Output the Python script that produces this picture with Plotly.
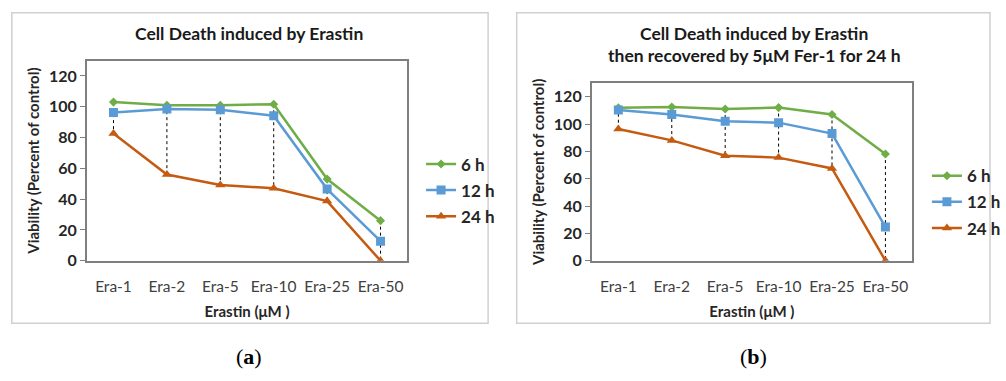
import plotly.graph_objects as go

W, H = 1006, 381

categories = ["Era-1", "Era-2", "Era-5", "Era-10", "Era-25", "Era-50"]
series_names = ["6 h", "12 h", "24 h"]

# Panel (a): Cell death induced by Erastin
a_6h = [103, 101, 101, 101.6, 53, 26]
a_12h = [96.3, 98.5, 98, 94.2, 46.5, 12.7]
a_24h = [82.6, 56, 49.2, 47, 38.7, 0]

# Panel (b): then recovered by 5µM Fer-1 for 24 h
b_6h = [111.9, 112.4, 111, 112, 107, 78]
b_12h = [110.3, 107, 102, 101, 93, 24.6]
b_24h = [96.4, 88, 76.8, 75.4, 67.5, 0]

y_ticks = [0, 20, 40, 60, 80, 100, 120]

colors = ["#70AD47", "#5B9BD5", "#C55A11"]
symbols = ["diamond", "square", "triangle-up"]
msizes = [7, 9, 9]

FONT = "Lato"

def px(x):
    return x / W

def py(y):
    return 1 - y / H

fig = go.Figure()

panels = [
    ("x", "y", [a_6h, a_12h, a_24h], "legend"),
    ("x2", "y2", [b_6h, b_12h, b_24h], "legend2"),
]

for xa, ya, data, leg in panels:
    # high-low drop lines
    dx, dy = [], []
    for i, c in enumerate(categories):
        vals = [s[i] for s in data]
        dx += [c, c, None]
        dy += [max(vals), min(vals), None]
    fig.add_trace(go.Scatter(x=dx, y=dy, xaxis=xa, yaxis=ya, mode="lines",
                             line=dict(color="#000000", width=1, dash="dot"),
                             showlegend=False, hoverinfo="skip", legend=leg))
    for k, (name, vals) in enumerate(zip(series_names, data)):
        fig.add_trace(go.Scatter(
            x=categories, y=vals, xaxis=xa, yaxis=ya, name=name,
            mode="lines+markers",
            line=dict(color=colors[k], width=2.5),
            marker=dict(symbol=symbols[k], size=msizes[k], color=colors[k]),
            legend=leg, legendgroup=f"{leg}{k}",
        ))

axis_common_x = dict(
    type="category", range=[-0.5, 5.5], showgrid=False, zeroline=False,
    showline=True, mirror=True, linecolor="#7f7f7f", linewidth=1.5,
    ticks="outside", ticklen=11, tickcolor="rgba(255,255,255,0)",
    tickfont=dict(family=FONT, size=15.5, color="#404040"),
    title=dict(text="<b>Erastin (μM )</b>", font=dict(family=FONT, size=15, color="#262626"), standoff=12),
)
axis_common_y = dict(
    range=[0, 130], tickvals=y_ticks, showgrid=False, zeroline=False,
    showline=True, mirror=True, linecolor="#7f7f7f", linewidth=1.5,
    ticks="outside", ticklen=5, tickcolor="#7f7f7f",
    tickfont=dict(family=FONT, size=16, color="#262626", weight="bold"),
    title=dict(text="<b>Viability (Percent of control)</b>", font=dict(family=FONT, size=15, color="#262626"), standoff=6),
)

fig.update_layout(
    width=W, height=H, margin=dict(l=0, r=0, t=0, b=0),
    paper_bgcolor="white", plot_bgcolor="white",
    xaxis=dict(domain=[px(88), px(413)], anchor="y", **axis_common_x),
    yaxis=dict(domain=[py(267), py(62)], anchor="x", **axis_common_y),
    xaxis2=dict(domain=[px(600), px(925)], anchor="y2", **axis_common_x),
    yaxis2=dict(domain=[py(267), py(85)], anchor="x2", **axis_common_y),
    legend=dict(x=px(427), y=py(150), xanchor="left", yanchor="top",
                traceorder="grouped", tracegroupgap=1,
                font=dict(family=FONT, size=17, color="#262626", weight="bold"),
                bgcolor="rgba(0,0,0,0)", borderwidth=0, itemwidth=30),
    legend2=dict(x=px(940), y=py(162), xanchor="left", yanchor="top",
                 traceorder="grouped", tracegroupgap=1,
                 font=dict(family=FONT, size=17, color="#262626", weight="bold"),
                 bgcolor="rgba(0,0,0,0)", borderwidth=0, itemwidth=30),
    showlegend=True,
)

# outer chart boxes
for x0, x1 in [(12, 495), (524, 1004)]:
    fig.add_shape(type="rect", xref="paper", yref="paper",
                  x0=px(x0), x1=px(x1), y0=py(331), y1=py(13),
                  line=dict(color="#d0d0d0", width=1.5), fillcolor="rgba(0,0,0,0)", layer="below")

annotations = [
    dict(text="<b>Cell Death induced by Erastin</b>", x=px(253), y=py(34), size=17.5),
    dict(text="<b>Cell Death induced by Erastin</b>", x=px(765), y=py(34), size=17.5),
    dict(text="<b>then recovered by 5μM Fer-1 for 24 h</b>", x=px(765), y=py(57), size=17.5),
]
for a in annotations:
    fig.add_annotation(text=a["text"], x=a["x"], y=a["y"], xref="paper", yref="paper",
                       xanchor="center", yanchor="middle", showarrow=False,
                       font=dict(family=FONT, size=a["size"], color="#1a1a1a"))

for label, xc in [("(<b>a</b>)", 253), ("(<b>b</b>)", 764)]:
    fig.add_annotation(text=label, x=px(xc), y=py(365), xref="paper", yref="paper",
                       xanchor="center", yanchor="middle", showarrow=False,
                       font=dict(family="Liberation Serif", size=22, color="#000000"))

fig.write_html("out.html")
